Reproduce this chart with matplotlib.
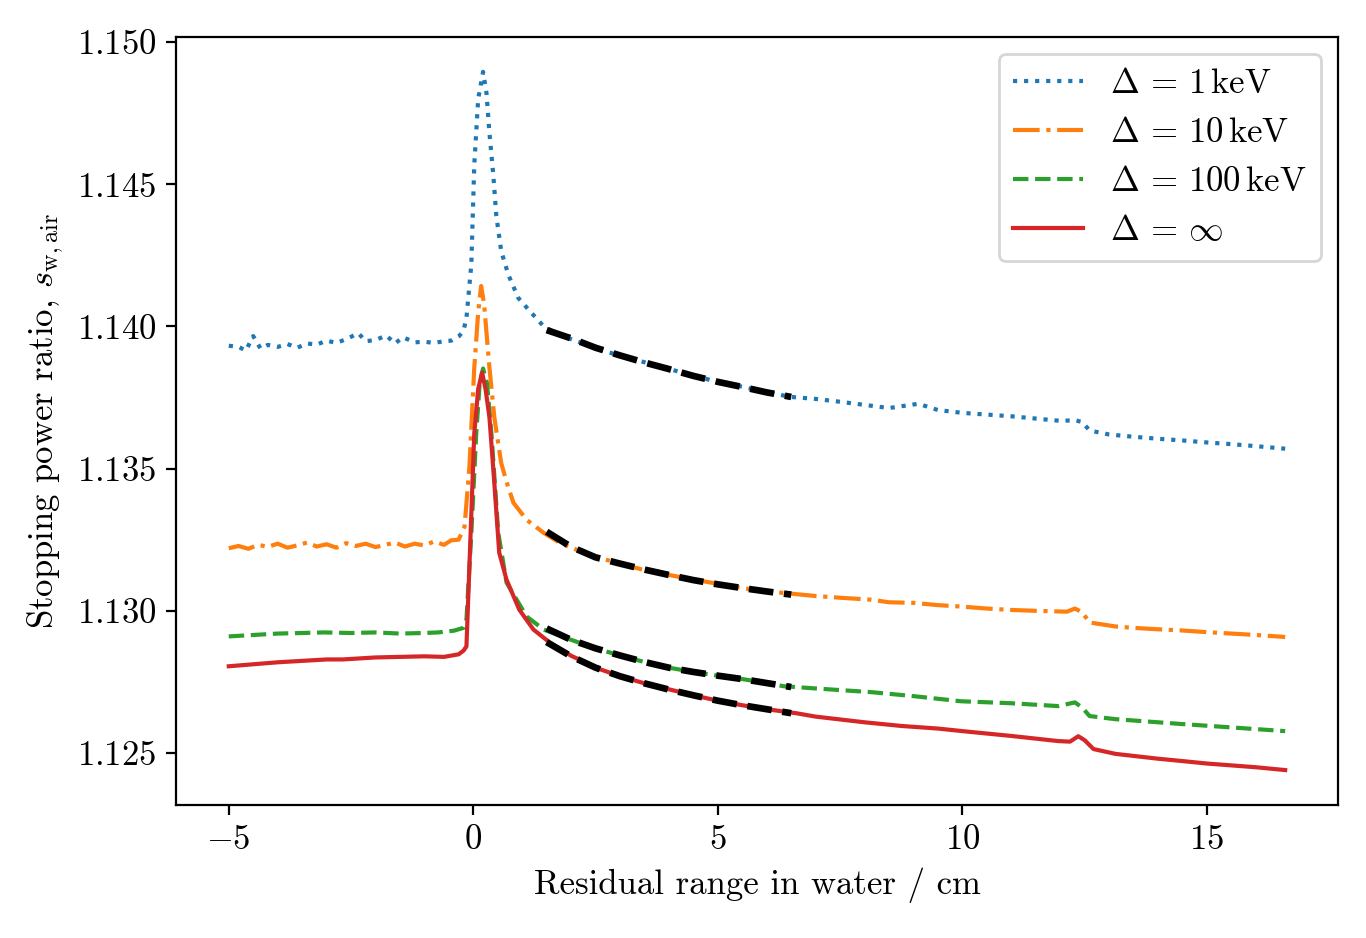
import numpy as np
import matplotlib
matplotlib.use("Agg")
import matplotlib.pyplot as plt

plt.rcParams['font.family'] = 'serif'
plt.rcParams['font.serif'] = ['cmr10', 'DejaVu Serif']
plt.rcParams['mathtext.fontset'] = 'cm'
plt.rcParams['axes.formatter.use_mathtext'] = True
plt.rcParams['font.size'] = 12.5

# ---------------------
# Values

# Delta = 1 keV
x_1kev = [-5.0, -4.8, -4.65, -4.5, -4.35, -4.2, -4.0, -3.8, -3.6, -3.4, -3.2, -3.0,
          -2.8, -2.6, -2.35, -2.2, -2.0, -1.78, -1.6, -1.44, -1.2, -1.0, -0.8, -0.6,
          -0.45, -0.29, -0.2, -0.14, -0.04, 0.02, 0.1, 0.2, 0.27, 0.33, 0.41, 0.47,
          0.57, 0.72, 0.92, 1.15, 1.44, 1.76, 2.0, 2.5, 3.0, 3.5, 4.0, 4.5, 5.0, 5.5,
          6.0, 6.5, 7.0, 7.5, 8.0, 8.5, 9.1, 9.5, 10.0, 10.5, 11.0, 11.5, 12.0, 12.3,
          12.45, 12.6, 13.0, 13.5, 14.0, 14.5, 15.0, 15.5, 16.0, 16.6]
y_1kev = [1.13932, 1.13928, 1.13915, 1.13966, 1.13922, 1.13935, 1.13928, 1.13938,
          1.13925, 1.13940, 1.13936, 1.13950, 1.13942, 1.13955, 1.13976, 1.13948,
          1.13952, 1.13968, 1.13940, 1.13962, 1.13944, 1.13946, 1.13942, 1.13948,
          1.13950, 1.13966, 1.13985, 1.14030, 1.14219, 1.14569, 1.14800, 1.14895,
          1.14820, 1.14680, 1.14530, 1.14390, 1.14265, 1.14180, 1.14100, 1.14055,
          1.14000, 1.13970, 1.13955, 1.13925, 1.13896, 1.13874, 1.13850, 1.13828,
          1.13804, 1.13788, 1.13768, 1.13752, 1.13745, 1.13735, 1.13724, 1.13713,
          1.13728, 1.13706, 1.13696, 1.13690, 1.13684, 1.13676, 1.13668, 1.13670,
          1.13664, 1.13634, 1.13620, 1.13612, 1.13605, 1.13599, 1.13592, 1.13586,
          1.13579, 1.13570]

# Delta = 10 keV
x_10kev = [-5.0, -4.8, -4.6, -4.4, -4.2, -4.0, -3.8, -3.6, -3.4, -3.2, -3.0, -2.8,
           -2.6, -2.4, -2.2, -2.0, -1.8, -1.6, -1.4, -1.2, -1.0, -0.8, -0.6, -0.45,
           -0.3, -0.18, -0.08, 0.02, 0.1, 0.16, 0.22, 0.33, 0.43, 0.57, 0.68, 0.82,
           1.09, 1.44, 1.76, 2.0, 2.5, 3.0, 3.63, 4.0, 4.5, 5.0, 5.5, 6.0, 6.34, 7.0,
           7.5, 8.14, 8.5, 9.0, 9.5, 9.97, 10.5, 11.0, 11.5, 12.14, 12.3, 12.45, 12.6,
           13.13, 13.5, 14.0, 14.48, 15.0, 15.5, 16.0, 16.6]
y_10kev = [1.13220, 1.13228, 1.13218, 1.13232, 1.13225, 1.13236, 1.13222, 1.13230,
           1.13240, 1.13226, 1.13234, 1.13222, 1.13238, 1.13228, 1.13236, 1.13224,
           1.13232, 1.13240, 1.13226, 1.13236, 1.13230, 1.13244, 1.13232, 1.13248,
           1.13250, 1.13295, 1.13505, 1.13855, 1.14050, 1.14142, 1.14080, 1.13855,
           1.13680, 1.13520, 1.13453, 1.13380, 1.13320, 1.13274, 1.13240, 1.13222,
           1.13190, 1.13166, 1.13137, 1.13126, 1.13110, 1.13095, 1.13080, 1.13068,
           1.13063, 1.13052, 1.13046, 1.13039, 1.13030, 1.13028, 1.13020, 1.13015,
           1.13008, 1.13003, 1.13000, 1.12997, 1.13008, 1.12995, 1.12959, 1.12945,
           1.12940, 1.12935, 1.12931, 1.12925, 1.12920, 1.12915, 1.12908]

# Delta = 100 keV
x_100kev = [-5.0, -4.5, -4.0, -3.5, -3.05, -2.5, -2.0, -1.5, -1.0, -0.72, -0.4, -0.2,
            -0.14, -0.04, 0.06, 0.13, 0.2, 0.28, 0.37, 0.51, 0.68, 1.09, 1.44, 2.0,
            2.5, 3.0, 3.5, 4.0, 4.5, 5.0, 5.5, 6.0, 6.34, 7.0, 8.14, 9.0, 9.97, 11.0,
            11.96, 12.3, 12.45, 12.6, 13.13, 14.48, 15.5, 16.6]
y_100kev = [1.12910, 1.12915, 1.12920, 1.12922, 1.12924, 1.12922, 1.12924, 1.12920,
            1.12922, 1.12924, 1.12930, 1.12940, 1.12970, 1.13274, 1.13624, 1.13800,
            1.13852, 1.13800, 1.13624, 1.13274, 1.13099, 1.12980, 1.12934, 1.12898,
            1.12868, 1.12843, 1.12820, 1.12800, 1.12785, 1.12772, 1.12760, 1.12746,
            1.12735, 1.12727, 1.12714, 1.12700, 1.12682, 1.12675, 1.12665, 1.12678,
            1.12660, 1.12630, 1.12619, 1.12602, 1.12590, 1.12577]

# Delta = infinity
x_inf = [-5.0, -4.5, -4.0, -3.5, -3.0, -2.67, -2.0, -1.5, -1.0, -0.6, -0.3, -0.2,
         -0.14, -0.08, 0.02, 0.1, 0.18, 0.25, 0.33, 0.43, 0.53, 0.68, 0.94, 1.23,
         1.56, 2.0, 2.6, 3.0, 3.5, 4.0, 4.5, 5.0, 5.5, 6.0, 6.6, 7.0, 8.0, 8.76,
         9.5, 10.0, 11.0, 11.96, 12.2, 12.37, 12.5, 12.68, 13.13, 14.0, 14.48, 15.0,
         16.0, 16.6]
y_inf = [1.12805, 1.12812, 1.12819, 1.12824, 1.12829, 1.12829, 1.12836, 1.12838,
         1.12840, 1.12838, 1.12847, 1.12860, 1.12875, 1.13155, 1.13624, 1.13780,
         1.13838, 1.13780, 1.13680, 1.13449, 1.13204, 1.13109, 1.13004, 1.12934,
         1.12889, 1.12842, 1.12794, 1.12770, 1.12745, 1.12724, 1.12703, 1.12684,
         1.12668, 1.12654, 1.12640, 1.12628, 1.12608, 1.12595, 1.12586, 1.12577,
         1.12560, 1.12542, 1.12540, 1.12559, 1.12545, 1.12514, 1.12497, 1.12480,
         1.12472, 1.12463, 1.12450, 1.12440]

# black dashed fits
x_fit = [1.5, 2.0, 2.5, 3.0, 3.5, 4.0, 4.5, 5.0, 5.5, 6.0, 6.5]
fit_1kev = [1.13987, 1.13958, 1.13925, 1.13898, 1.13873, 1.13850, 1.13826,
            1.13805, 1.13787, 1.13768, 1.13752]
fit_10kev = [1.13278, 1.13225, 1.13188, 1.13166, 1.13145, 1.13126, 1.13108,
             1.13093, 1.13080, 1.13068, 1.13057]
fit_100kev = [1.12938, 1.12898, 1.12868, 1.12843, 1.12820, 1.12800, 1.12785,
              1.12772, 1.12760, 1.12746, 1.12732]
fit_inf = [1.12890, 1.12840, 1.12800, 1.12770, 1.12745, 1.12723, 1.12703,
           1.12684, 1.12668, 1.12654, 1.12640]

# ---------------------
# Plot

fig = plt.figure(figsize=(6.83, 4.69), dpi=200)
ax = fig.add_axes([0.1288, 0.1418, 0.8507, 0.8188])

ax.plot(x_1kev, y_1kev, ':', color='C0', lw=1.5, label=r'$\Delta\,=\,1\,\mathrm{keV}$')
ax.plot(x_10kev, y_10kev, '-.', color='C1', lw=1.5, label=r'$\Delta\,=\,10\,\mathrm{keV}$')
ax.plot(x_100kev, y_100kev, '--', color='C2', lw=1.5, label=r'$\Delta\,=\,100\,\mathrm{keV}$')
ax.plot(x_inf, y_inf, '-', color='C3', lw=1.5, label=r'$\Delta\,=\,\infty$')

for fit in [fit_1kev, fit_10kev, fit_100kev, fit_inf] :
    ax.plot(x_fit, fit, 'k--', lw=2.4)

ax.set_xlabel('Residual range in water / cm')
ax.set_ylabel(r'Stopping power ratio, $s_\mathrm{w,air}$')
ax.set_yticks([1.125, 1.130, 1.135, 1.140, 1.145, 1.150])
ax.set_xticks([-5, 0, 5, 10, 15])
ax.set_xticklabels([r'$-5$', r'$0$', r'$5$', r'$10$', r'$15$'])
ax.set_yticklabels([r'$1.125$', r'$1.130$', r'$1.135$', r'$1.140$', r'$1.145$', r'$1.150$'])
ax.legend(loc='upper right')

fig.savefig('out.png', dpi=200)
